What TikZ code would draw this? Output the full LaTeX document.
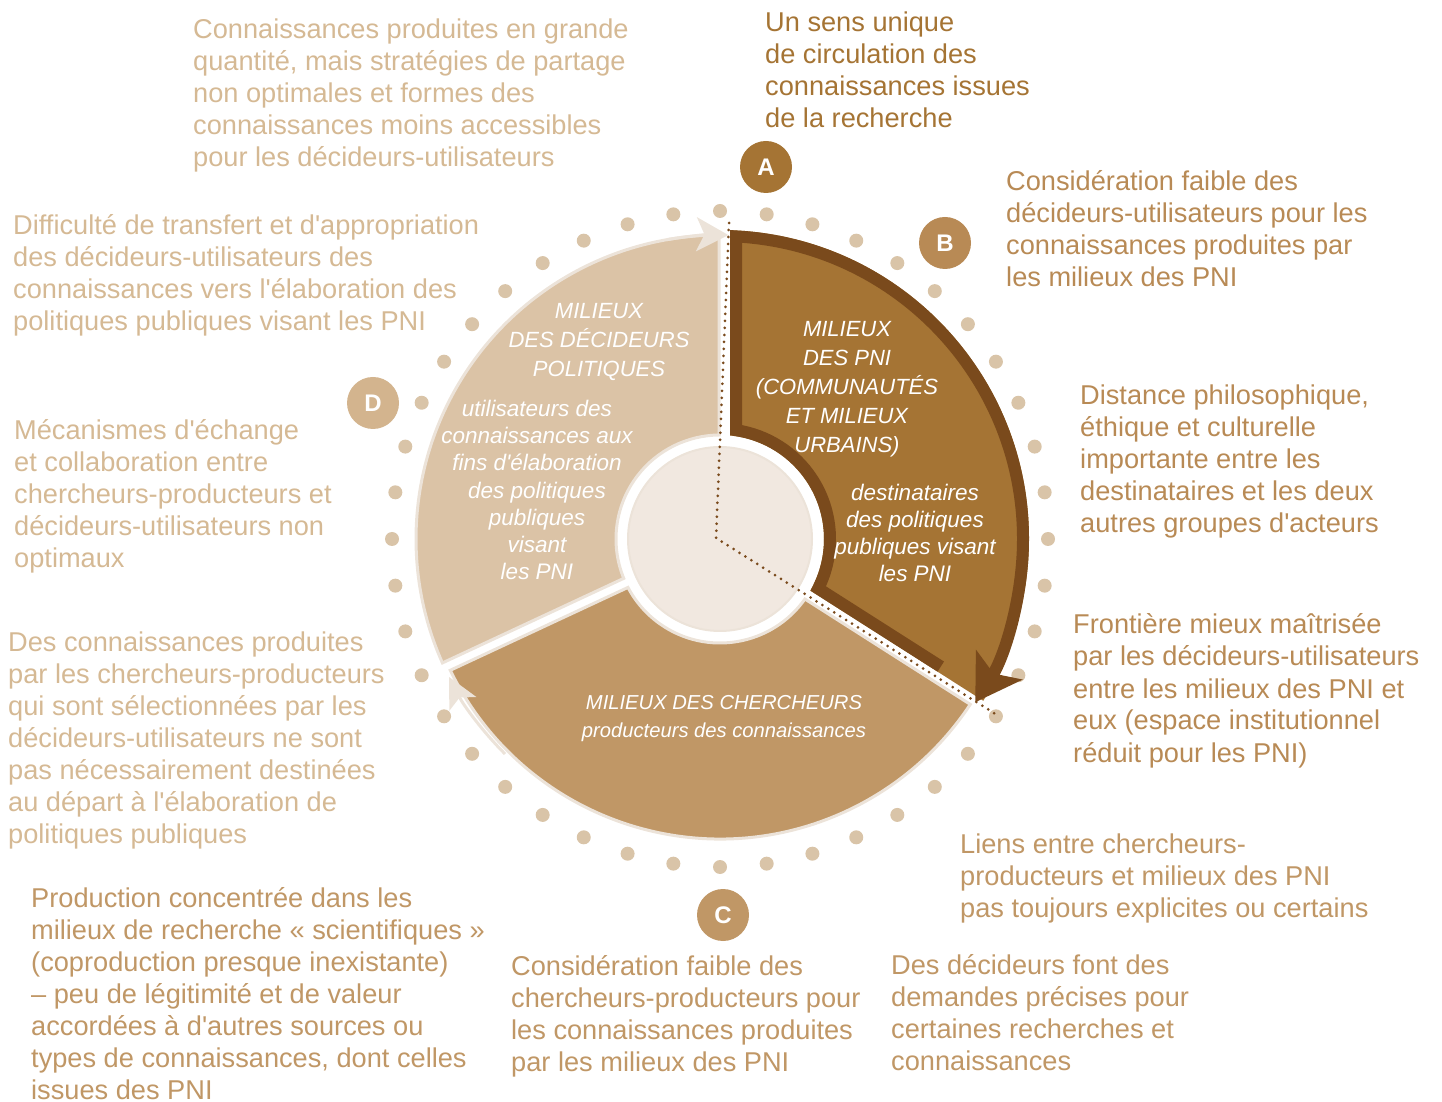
\documentclass[tikz,border=0pt]{standalone}
\usepackage{fontspec}
\setmainfont{Liberation Sans}[Ligatures=TeXOff]
\usetikzlibrary{arrows.meta}

\definecolor{pniBrown}{RGB}{165,116,52}
\definecolor{pniDark}{RGB}{122,74,28}
\definecolor{pniTan}{RGB}{184,138,85}
\definecolor{pniCher}{RGB}{192,151,102}
\definecolor{pniDec}{RGB}{219,195,166}
\definecolor{pniBadgeD}{RGB}{211,180,142}
\definecolor{pniLight}{RGB}{213,185,148}
\definecolor{pniDot}{RGB}{217,196,168}
\definecolor{pniCore}{RGB}{241,232,224}
\definecolor{pniEdge}{RGB}{236,227,217}

% notes are placed by the baseline of their last line
\tikzset{
  note/.style={anchor=base west, inner sep=0pt, align=left,
    font=\fontsize{27.2}{32}\selectfont},
  badge/.style={circle, minimum size=52pt, inner sep=0pt, text=white,
    font=\fontsize{24}{24}\selectfont\bfseries},
  title/.style={align=center, inner sep=0pt, text=white,
    font=\fontsize{22}{29}\selectfont\itshape},
  role/.style={align=center, inner sep=0pt, text=white,
    font=\fontsize{22.5}{27.3}\selectfont\itshape},
}

\begin{document}
\begin{tikzpicture}[x=1pt, y=1pt]
  \useasboundingbox (0,0) rectangle (1442,1101);

  \begin{scope}[shift={(720,562)}]
    % ring of dots
    \foreach \k in {0,...,43}
      \fill[pniDot] ({90+\k*360/44}:328) circle[radius=7];

    % core
    \fill[pniCore, draw=pniEdge, line width=2pt] (0,0) circle[radius=92];

    % decideurs
    \filldraw[fill=pniDec, draw=pniEdge, line width=3pt]
      ({90+asin(1/104)}:104) -- ({90+asin(1/304)}:304)
      arc[start angle={90+asin(1/304)}, end angle={205-asin(5/304)}, radius=304]
      -- ({205-asin(5/104)}:104)
      arc[start angle={205-asin(5/104)}, end angle={90+asin(1/104)}, radius=104]
      -- cycle;
    \draw[pniEdge, line width=3pt, -{Stealth[length=32pt, width=34pt, inset=8pt]}]
      (100:304) arc[start angle=100, end angle=88.4, radius=304];

    % chercheurs
    \filldraw[fill=pniCher, draw=pniEdge, line width=3pt]
      ({-155+asin(5/104)}:104) -- ({-155+asin(5/300)}:300)
      arc[start angle={-155+asin(5/300)}, end angle={-32.5-asin(5/300)}, radius=300]
      -- ({-32.5-asin(5/104)}:104)
      arc[start angle={-32.5-asin(5/104)}, end angle={-155+asin(5/104)}, radius=104]
      -- cycle;
    \draw[pniEdge, line width=3pt, -{Stealth[length=30pt, width=30pt, inset=7pt]}]
      (-135:304) arc[start angle=-135, end angle=-153, radius=304];

    % PNI
    \fill[pniBrown]
      ({90-asin(10/104)}:104) -- ({90-asin(10/309)}:309)
      arc[start angle={90-asin(10/309)}, end angle={-32.5+asin(5/309)}, radius=309]
      -- ({-32.5+asin(5/104)}:104)
      arc[start angle={-32.5+asin(5/104)}, end angle={90-asin(10/104)}, radius=104]
      -- cycle;
    \draw[pniDark, line width=12pt, -{Stealth[length=44pt, width=54pt, inset=10pt]}]
      ({-32.5+asin(11/255)}:255) -- ({-32.5+asin(11/110)}:110)
      arc[start angle={-32.5+asin(11/110)}, end angle={90-asin(16/110)}, radius=110]
      -- ({90-asin(16/303)}:303)
      arc[start angle={90-asin(16/303)}, end angle=-32.6, radius=303];
  \end{scope}

  % dotted path between the groups
  \coordinate (gapTop) at (729,878);
  \coordinate (gapMid) at (716,563);
  \coordinate (gapEnd) at (997,386);
  \draw[pniDark, line width=3pt, line cap=round, dash pattern=on 0pt off 7pt]
    (gapTop) -- (gapMid) -- (gapEnd);

  \node[title] (tDec) at (599,759) {MILIEUX\\DES DÉCIDEURS\\POLITIQUES};
  \node[role] (rDec) at (537,611) {utilisateurs des\\connaissances aux\\fins d'élaboration\\des politiques\\publiques\\visant\\les PNI};
  \node[title] (tPni) at (847,712) {MILIEUX\\DES PNI\\(COMMUNAUTÉS\\ET MILIEUX\\URBAINS)};
  \node[role] (rPni) at (915,568) {destinataires\\des politiques\\publiques visant\\les PNI};
  \node[title, font=\fontsize{20.2}{29}\selectfont\itshape] (tCher) at (724,398) {MILIEUX DES CHERCHEURS};
  \node[role, font=\fontsize{20.2}{27}\selectfont\itshape] (rCher) at (724,369) {producteurs des connaissances};

  \node[badge, fill=pniBrown] (bA) at (766,934) {A};
  \node[badge, fill=pniTan] (bB) at (945,858) {B};
  \node[badge, fill=pniCher] (bC) at (723,186) {C};
  \node[badge, fill=pniBadgeD] (bD) at (373,698) {D};

  \node[note, text=pniLight] (nPartage) at (193,934) {Connaissances produites en grande\\quantité, mais stratégies de partage\\non optimales et formes des\\connaissances moins accessibles\\pour les décideurs-utilisateurs};
  \node[note, text=pniBrown] (nSens) at (765,973) {Un sens unique\\de circulation des\\connaissances issues\\de la recherche};
  \node[note, text=pniTan] (nConsDec) at (1006,814) {Considération faible des\\décideurs-utilisateurs pour les\\connaissances produites par\\les milieux des PNI};
  \node[note, text=pniTan] (nDistance) at (1080,568) {Distance philosophique,\\éthique et culturelle\\importante entre les\\destinataires et les deux\\autres groupes d'acteurs};
  \node[note, text=pniTan] (nFrontiere) at (1073,339) {Frontière mieux maîtrisée\\par les décideurs-utilisateurs\\entre les milieux des PNI et\\eux (espace institutionnel\\réduit pour les PNI)};
  \node[note, text=pniCher] (nLiens) at (960,184) {Liens entre chercheurs-\\producteurs et milieux des PNI\\pas toujours explicites ou certains};
  \node[note, text=pniCher] (nDemandes) at (891,31) {Des décideurs font des\\demandes précises pour\\certaines recherches et\\connaissances};
  \node[note, text=pniCher] (nConsCher) at (511,30) {Considération faible des\\chercheurs-producteurs pour\\les connaissances produites\\par les milieux des PNI};
  \node[note, text=pniCher] (nProduction) at (31,2) {Production concentrée dans les\\milieux de recherche « scientifiques »\\(coproduction presque inexistante)\\– peu de légitimité et de valeur\\accordées à d'autres sources ou\\types de connaissances, dont celles\\issues des PNI};
  \node[note, text=pniLight] (nSelection) at (8,258) {Des connaissances produites\\par les chercheurs-producteurs\\qui sont sélectionnées par les\\décideurs-utilisateurs ne sont\\pas nécessairement destinées\\au départ à l'élaboration de\\politiques publiques};
  \node[note, text=pniLight] (nEchange) at (14,533) {Mécanismes d'échange\\et collaboration entre\\chercheurs-producteurs et\\décideurs-utilisateurs non\\optimaux};
  \node[note, text=pniLight] (nTransfert) at (13,770) {Difficulté de transfert et d'appropriation\\des décideurs-utilisateurs des\\connaissances vers l'élaboration des\\politiques publiques visant les PNI};
\end{tikzpicture}
\end{document}
